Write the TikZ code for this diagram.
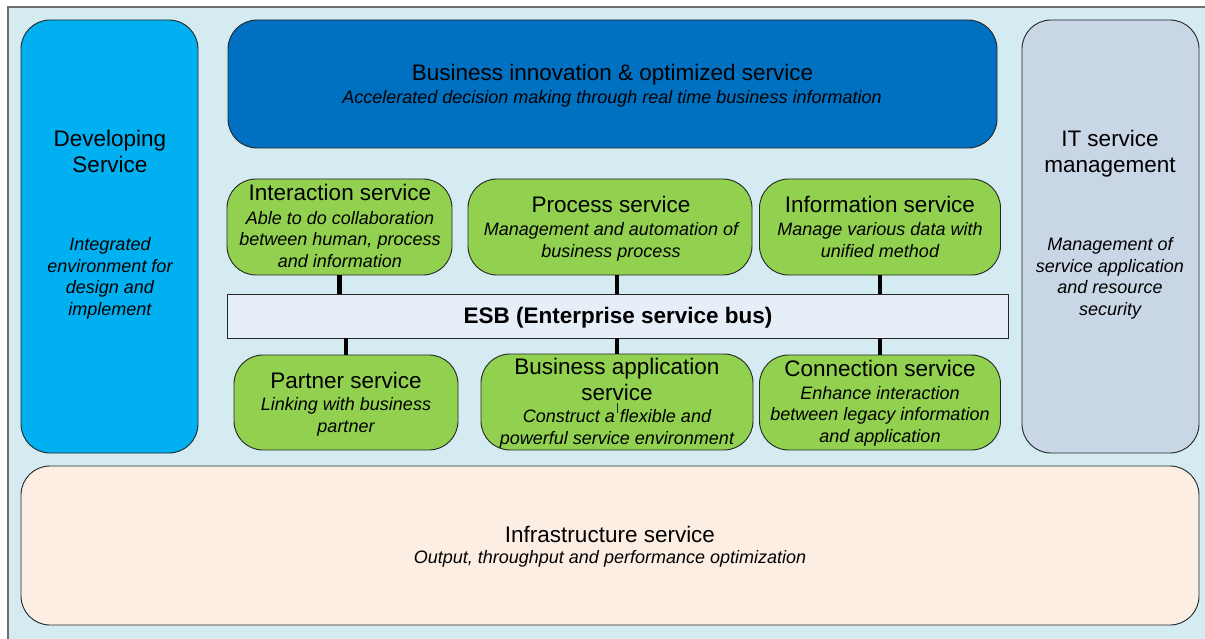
\documentclass[tikz,border=0pt]{standalone}
\usepackage{fontspec}
\setmainfont{Liberation Sans}
\definecolor{framebg}{HTML}{D3EBF1}
\definecolor{framedraw}{HTML}{6E6E6E}
\definecolor{devblue}{HTML}{00B0F0}
\definecolor{bizblue}{HTML}{0070C0}
\definecolor{itgray}{HTML}{C8D6E5}
\definecolor{svcgreen}{HTML}{92D050}
\definecolor{esbfill}{HTML}{E6EEF8}
\definecolor{infrafill}{HTML}{FDEEE3}
\definecolor{edge}{HTML}{262626}
\begin{document}
\begin{tikzpicture}[x=1pt,y=-1pt,
  box/.style={draw=edge, line width=0.9pt, rounded corners=29pt, inner sep=0pt},
  bar/.style={draw=edge, line width=0.9pt, inner sep=0pt},
  ttl/.style={font=\fontsize{22.5}{26}\selectfont, align=center, inner sep=0pt},
  sub/.style={font=\fontsize{18}{21.5}\selectfont\itshape, align=center, inner sep=0pt},
  link/.style={line width=4.6pt, black}]
\useasboundingbox (0,0) rectangle (1205,639);
\fill[white] (0,0) rectangle (1205,639);
\path[fill=framebg] (8,7) rectangle (1215,650);
\draw[framedraw, line width=1.4pt] (8,650) -- (8,7) -- (1215,7);

% boxes
\node[box, fill=devblue, minimum width=177pt, minimum height=433pt] (dev) at (109.5,236.5) {};
\node[box, fill=bizblue, minimum width=769pt, minimum height=128pt] (biz) at (612.5,84) {};
\node[box, fill=itgray, minimum width=177pt, minimum height=433pt] (itm) at (1110.5,236.5) {};
\node[box, fill=svcgreen, minimum width=225pt, minimum height=96pt] (inter) at (339.5,227) {};
\node[box, fill=svcgreen, minimum width=284pt, minimum height=96pt] (proc) at (610,227) {};
\node[box, fill=svcgreen, minimum width=241pt, minimum height=96pt] (info) at (880,227) {};
\node[bar, fill=esbfill, minimum width=781pt, minimum height=44pt] (esb) at (617.5,316) {};
\node[box, fill=svcgreen, minimum width=224pt, minimum height=95pt] (partner) at (346,402.5) {};
\node[box, fill=svcgreen, minimum width=272pt, minimum height=96pt] (busapp) at (617,402) {};
\node[box, fill=svcgreen, minimum width=241pt, minimum height=95pt] (connsvc) at (880,402.5) {};
\node[box, fill=infrafill, minimum width=1178pt, minimum height=159pt] (infra) at (610,545.5) {};

% connectors
\draw[link] (inter.south) -- (inter.south |- esb.north);
\draw[link] (partner.north) -- (partner.north |- esb.south);
\draw[link] (busapp.north |- proc.south) -- (busapp.north |- esb.north);
\draw[link] (busapp.north |- esb.south) -- (busapp.north);
\draw[link] (info.south) -- (info.south |- esb.north);
\draw[link] (connsvc.north) -- (connsvc.north |- esb.south);
\draw[edge, line width=0.8pt] (617,403) -- (617,413);

% texts
\node[ttl] (devT) at (110,154.8) {Developing\strut\\Service\strut};
\node[sub] (devS) at (110,278.5) {Integrated\strut\\environment for\strut\\design and\strut\\implement\strut};
\node[ttl] (itT) at (1110,154.8) {IT service\strut\\management\strut};
\node[sub] (itS) at (1110,278.5) {Management of\strut\\service application\strut\\and resource\strut\\security\strut};
\node[ttl, anchor=base] (bizT) at (612.5,81) {Business innovation \& optimized service};
\node[sub, anchor=base] (bizS) at (612,103.5) {Accelerated decision making through real time business information};
\node[ttl, anchor=base] (interT) at (340,201) {Interaction service};
\node[sub] (interS) at (340,241.2) {Able to do collaboration\strut\\between human, process\strut\\and information\strut};
\node[ttl, anchor=base] (procT) at (611,213) {Process service};
\node[sub] (procS) at (611,242) {Management and automation of\strut\\business process\strut};
\node[ttl, anchor=base] (infoT) at (880,213) {Information service};
\node[sub] (infoS) at (880,242) {Manage various data with\strut\\unified method\strut};
\node[font=\fontsize{22.5}{26}\selectfont\bfseries, anchor=base, inner sep=0pt] (esbT) at (618,323.5) {ESB (Enterprise service bus)};
\node[ttl, anchor=base] (partnerT) at (346,388) {Partner service};
\node[sub] (partnerS) at (346,417) {Linking with business\strut\\partner\strut};
\node[ttl] (busappT) at (617,381.8) {Business application\strut\\service\strut};
\node[sub] (busappS) at (617,429.4) {Construct a flexible and\strut\\powerful service environment\strut};
\node[ttl, anchor=base] (connT) at (880,376) {Connection service};
\node[sub] (connS) at (880,416.2) {Enhance interaction\strut\\between legacy information\strut\\and application\strut};
\node[ttl, anchor=base] (infraT) at (610,542) {Infrastructure service};
\node[sub, anchor=base] (infraS) at (610,563.5) {Output, throughput and performance optimization};
\end{tikzpicture}
\end{document}
